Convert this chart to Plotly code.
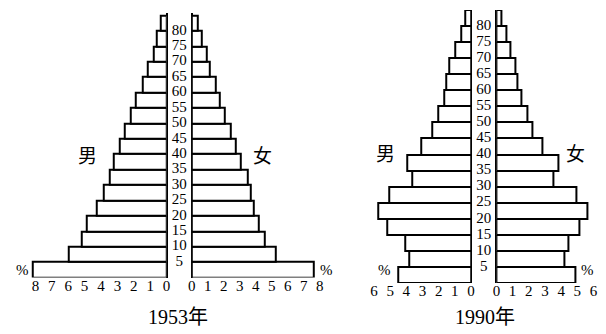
import plotly.graph_objects as go

# age groups 0-4 ... 80+, bottom to top
age_starts = [0, 5, 10, 15, 20, 25, 30, 35, 40, 45, 50, 55, 60, 65, 70, 75, 80]
age_ticks = [5, 10, 15, 20, 25, 30, 35, 40, 45, 50, 55, 60, 65, 70, 75, 80]

male_1953 = [8.16, 5.95, 5.17, 4.87, 4.27, 3.83, 3.47, 3.23, 2.87, 2.57, 2.20, 1.87, 1.48, 1.12, 0.78, 0.58, 0.33]
female_1953 = [7.65, 5.25, 4.55, 4.20, 3.89, 3.69, 3.48, 3.07, 2.76, 2.45, 2.04, 1.77, 1.52, 1.15, 0.91, 0.64, 0.39]

male_1990 = [4.51, 3.82, 4.07, 5.18, 5.73, 5.08, 3.66, 3.92, 3.05, 2.38, 2.03, 1.63, 1.51, 1.32, 0.98, 0.59, 0.35]
female_1990 = [4.90, 4.23, 4.43, 5.14, 5.65, 4.94, 3.52, 3.82, 2.87, 2.20, 1.93, 1.52, 1.32, 1.20, 0.87, 0.59, 0.32]

ticks_1953 = list(range(0, 9))
ticks_1990 = list(range(0, 7))

SERIF = "Liberation Serif, Times New Roman, serif"
CJK = "Noto Sans CJK SC, sans-serif"
W, H = 606, 334

ypos = [a / 5 for a in age_starts]
label_pos = [a / 5 - 0.5 for a in age_ticks]

bar_style = dict(color="white", line=dict(color="black", width=2))

fig = go.Figure()


def add_pyramid(male, female, xm, xc, xf, ya):
    fig.add_trace(go.Bar(x=male, y=ypos, orientation="h", width=1,
                         marker=bar_style, xaxis=xm, yaxis=ya,
                         showlegend=False, hoverinfo="skip"))
    fig.add_trace(go.Scatter(x=[0.5] * len(age_ticks), y=label_pos, mode="text",
                             text=[str(a) for a in age_ticks],
                             textfont=dict(family=SERIF, size=15, color="black"),
                             xaxis=xc, yaxis=ya, showlegend=False,
                             hoverinfo="skip", cliponaxis=False))
    fig.add_trace(go.Bar(x=female, y=ypos, orientation="h", width=1,
                         marker=bar_style, xaxis=xf, yaxis=ya,
                         showlegend=False, hoverinfo="skip"))


add_pyramid(male_1953, female_1953, "x", "x2", "x3", "y")
add_pyramid(male_1990, female_1990, "x4", "x5", "x6", "y2")


def px_x(p):
    return p / W


def px_y(p):
    return 1 - p / H


def value_axis(domain, rng, ticks, anchor):
    return dict(domain=domain, range=rng, anchor=anchor,
                tickvals=ticks, ticktext=[str(t) for t in ticks],
                ticks="", showgrid=False, showline=False,
                zeroline=True, zerolinecolor="black", zerolinewidth=2,
                ticklabelstandoff=-3,
                tickfont=dict(family=SERIF, size=15, color="black"))


def blank_axis(domain, anchor):
    return dict(domain=domain, range=[0, 1], anchor=anchor, visible=False,
                showgrid=False, zeroline=False)


# 1953: male zero at 164.7px (16.6 px/unit), female zero at 190.3px (16.2 px/unit)
m53_left, m53_zero, f53_zero, f53_right = 18, 164.7, 190.3, 332
# 1990: male zero at 473.3px, female zero at 499px (16.4 px/unit)
m90_left, m90_zero, f90_zero, f90_right = 360, 473.3, 499, 606

fig.update_layout(
    width=W, height=H,
    margin=dict(l=0, r=0, t=0, b=0),
    paper_bgcolor="white", plot_bgcolor="rgba(0,0,0,0)",
    bargap=0,
    xaxis=value_axis([px_x(m53_left), px_x(m53_zero)],
                     [(m53_zero - m53_left) / 16.6, 0], ticks_1953, "y"),
    xaxis2=blank_axis([px_x(m53_zero), px_x(f53_zero)], "y"),
    xaxis3=value_axis([px_x(f53_zero), px_x(f53_right)],
                      [0, (f53_right - f53_zero) / 16.2], ticks_1953, "y"),
    xaxis4=value_axis([px_x(m90_left), px_x(m90_zero)],
                      [(m90_zero - m90_left) / 16.4, 0], ticks_1990, "y2"),
    xaxis5=blank_axis([px_x(m90_zero), px_x(f90_zero)], "y2"),
    xaxis6=value_axis([px_x(f90_zero), px_x(f90_right)],
                      [0, (f90_right - f90_zero) / 16.4], ticks_1990, "y2"),
    yaxis=dict(domain=[px_y(277.5), px_y(12.7)], range=[-0.5, 16.68],
               visible=False, showgrid=False, zeroline=False, anchor="x"),
    yaxis2=dict(domain=[px_y(283), px_y(10)], range=[-0.5, 16.5],
                visible=False, showgrid=False, zeroline=False, anchor="x4"),
)

notes = [
    ("男", 85, 155, CJK, 19),
    ("女", 262, 155, CJK, 19),
    ("男", 387, 152, CJK, 19),
    ("女", 579, 152, CJK, 19),
    ("%", 18.5, 270, SERIF, 15),
    ("%", 327, 270, SERIF, 15),
    ("%", 386, 270, SERIF, 15),
    ("%", 591, 270, SERIF, 15),
]
for txt, x, y, fam, size in notes:
    fig.add_annotation(text=txt, x=px_x(x), y=px_y(y), xref="paper", yref="paper",
                       showarrow=False, xanchor="center", yanchor="middle",
                       font=dict(family=fam, size=size, color="black"))

for year, x in [("1953", 176), ("1990", 487)]:
    fig.add_annotation(text=year + "<span style='font-family:Noto Sans CJK SC'>年</span>",
                       x=px_x(x), y=px_y(315), xref="paper", yref="paper",
                       showarrow=False, xanchor="center", yanchor="middle",
                       font=dict(family=SERIF, size=20, color="black"))

# page body has a default 8px margin; remove it so the figure fills the window
fig.write_html("out.html", config={"displayModeBar": False},
               post_script="document.body.style.margin='0';")
